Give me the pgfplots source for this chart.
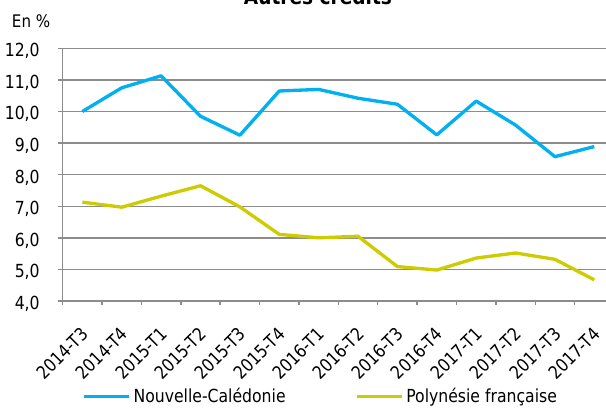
\documentclass[border=0pt]{standalone}
\usepackage{fontspec}
\setmainfont{DejaVu Sans}[FakeStretch=0.87]
\usepackage{pgfplots}
\pgfplotsset{compat=1.18}
\definecolor{nc}{RGB}{0,176,240}
\definecolor{pf}{RGB}{204,204,0}
\definecolor{gridc}{RGB}{140,140,140}
\begin{document}
\begin{tikzpicture}
\begin{axis}[
  at={(0,0)}, anchor=south west,
  scale only axis, width=413.5pt, height=189.5pt,
  xmin=-0.5, xmax=13.5, ymin=4, ymax=12,
  axis x line=bottom, axis y line=left,
  axis line style={gridc, line width=1.1pt, -},
  xtick={0,...,13},
  xticklabels={2014-T3,2014-T4,2015-T1,2015-T2,2015-T3,2015-T4,2016-T1,2016-T2,2016-T3,2016-T4,2017-T1,2017-T2,2017-T3,2017-T4},
  minor xtick={-0.5,0.5,...,13.5},
  major x tick style={draw=none},
  ytick={4,5,...,12},
  tick align=outside,
  major tick length=3.75pt,
  minor tick length=3pt,
  tick style={gridc, line width=1.1pt},
  ymajorgrids=true,
  major grid style={gridc, line width=1.1pt},
  /pgf/number format/.cd, fixed, fixed zerofill, precision=1, use comma, assume math mode=true, /pgfplots/.cd,
  tick label style={font=\fontsize{13.5pt}{16pt}\selectfont, text=black},
  yticklabel style={anchor=base east, inner sep=0pt, xshift=-13.3pt, yshift=-6.3pt},
  xticklabel style={anchor=base east, inner sep=0pt, xshift=5.5pt, yshift=-22pt, rotate=45},
  legend style={draw=none, fill=none, at={(0.035,-0.379)}, anchor=west, legend columns=2,
    inner sep=0pt, font=\fontsize{13.5pt}{16pt}\selectfont,
    /tikz/every even column/.append style={column sep=50pt}},
  legend image code/.code={\draw[#1, line width=2.5pt] (0pt,0pt) -- (34pt,0pt);},
]
\addplot[nc, line width=2.5pt, line join=round] coordinates {(0,10.0) (1,10.75) (2,11.13) (3,9.85) (4,9.25) (5,10.65) (6,10.70) (7,10.42) (8,10.23) (9,9.26) (10,10.33) (11,9.57) (12,8.57) (13,8.89)};
\addlegendentry{Nouvelle-Calédonie}
\addplot[pf, line width=2.5pt, line join=round] coordinates {(0,7.13) (1,6.97) (2,7.32) (3,7.65) (4,6.98) (5,6.11) (6,6.0) (7,6.05) (8,5.09) (9,4.98) (10,5.36) (11,5.52) (12,5.32) (13,4.67)};
\addlegendentry{Polynésie française}
\end{axis}
\node[font=\bfseries\fontsize{16pt}{19pt}\selectfont, anchor=base] at (191.5pt,222.4pt) {Autres crédits};
\node[anchor=base west, inner sep=0pt, font=\fontsize{13pt}{15pt}\selectfont] at (-38.2pt,204.75pt) {En \%};
\pgfresetboundingbox
\useasboundingbox (-47pt,-79.5pt) rectangle (407.5pt,225.75pt);
\end{tikzpicture}
\end{document}
